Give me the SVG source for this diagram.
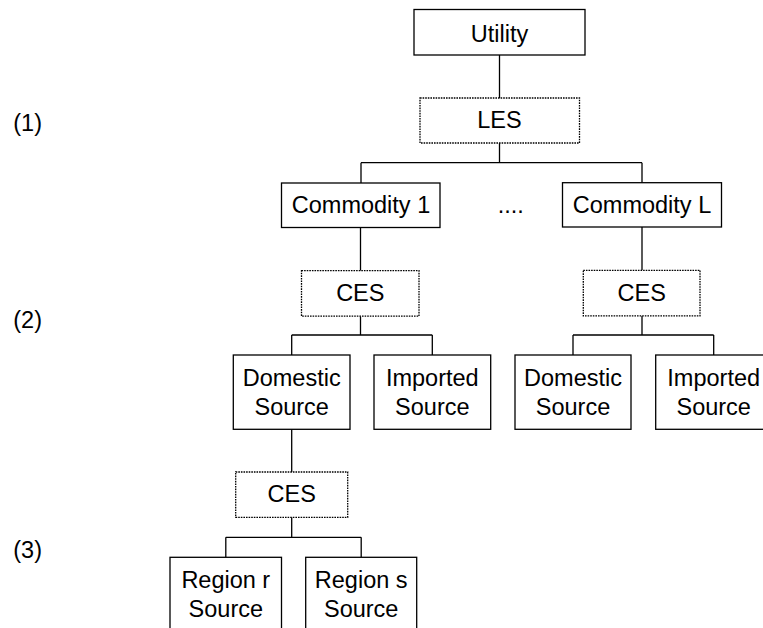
<svg xmlns="http://www.w3.org/2000/svg" width="763" height="628" viewBox="0 0 763 628">
<style>
  .box { fill: #ffffff; stroke: #000000; stroke-width: 1.3; }
  .dot { fill: #ffffff; stroke: #000000; stroke-width: 1.3; stroke-dasharray: 1.6 1; }
  .t { font-family: "Liberation Sans", Arial, sans-serif; font-size: 23.5px; fill: #000000; text-anchor: middle; }
  .lbl { font-family: "Liberation Sans", Arial, sans-serif; font-size: 23.5px; fill: #000000; }
  .c { fill: none; stroke: #000000; stroke-width: 1.3; }
</style>
<rect width="763" height="628" fill="#ffffff"/>
<g id="connectors">
  <path class="c" d="M499.5,55 V98"/>
  <path class="c" d="M499.5,143 V162.7 M361,162.7 H642 M361,162.7 V183 M642,162.7 V182.7"/>
  <path class="c" d="M360.5,227.5 V270.7"/>
  <path class="c" d="M360.5,316.2 V335 M291.7,335 H432.3 M291.7,335 V355 M432.3,335 V355"/>
  <path class="c" d="M642,227 V270.3"/>
  <path class="c" d="M642,315.8 V335 M573,335 H713.7 M573,335 V355 M713.7,335 V355"/>
  <path class="c" d="M291.7,429.3 V472"/>
  <path class="c" d="M291.7,517.3 V537.3 M225.8,537.3 H361.2 M225.8,537.3 V557.3 M361.2,537.3 V557.3"/>
</g>
<g id="labels">
  <text class="lbl" x="13.3" y="131">(1)</text>
  <text class="lbl" x="13.3" y="327.7">(2)</text>
  <text class="lbl" x="13.3" y="558">(3)</text>
  <text class="t" x="510.8" y="213.3">....</text>
</g>
<g id="utility">
  <rect class="box" x="414" y="9.5" width="171" height="45.5"/>
  <text class="t" x="499.5" y="41.7">Utility</text>
</g>
<g id="les">
  <rect class="dot" x="420" y="98" width="159.5" height="45"/>
  <text class="t" x="499.5" y="127.7">LES</text>
</g>
<g id="commodity1">
  <rect class="box" x="281.5" y="183" width="158.5" height="44.5"/>
  <text class="t" x="361" y="213.3">Commodity 1</text>
</g>
<g id="commodityL">
  <rect class="box" x="562.5" y="182.7" width="159" height="44.3"/>
  <text class="t" x="642" y="213.3">Commodity L</text>
</g>
<g id="ces1">
  <rect class="dot" x="301.5" y="270.7" width="117.5" height="45.5"/>
  <text class="t" x="360.3" y="300.7">CES</text>
</g>
<g id="ces2">
  <rect class="dot" x="583.3" y="270.3" width="116.7" height="45.5"/>
  <text class="t" x="641.7" y="300.5">CES</text>
</g>
<g id="domestic1">
  <rect class="box" x="233.3" y="355" width="116.7" height="74.3"/>
  <text class="t" x="291.7" y="385.7">Domestic</text>
  <text class="t" x="291.7" y="415">Source</text>
</g>
<g id="imported1">
  <rect class="box" x="374" y="355" width="116.7" height="74.3"/>
  <text class="t" x="432.3" y="385.7">Imported</text>
  <text class="t" x="432.3" y="415">Source</text>
</g>
<g id="domestic2">
  <rect class="box" x="515" y="355" width="116" height="74.3"/>
  <text class="t" x="573" y="385.7">Domestic</text>
  <text class="t" x="573" y="415">Source</text>
</g>
<g id="imported2">
  <rect class="box" x="655.7" y="355" width="116" height="74.3"/>
  <text class="t" x="713.7" y="385.7">Imported</text>
  <text class="t" x="713.7" y="415">Source</text>
</g>
<g id="ces3">
  <rect class="dot" x="235.7" y="472" width="112" height="45.3"/>
  <text class="t" x="291.7" y="501.7">CES</text>
</g>
<g id="regionR">
  <rect class="box" x="170" y="557.3" width="111.5" height="74"/>
  <text class="t" x="225.8" y="587.7">Region r</text>
  <text class="t" x="225.8" y="616.7">Source</text>
</g>
<g id="regionS">
  <rect class="box" x="305.7" y="557.3" width="111" height="74"/>
  <text class="t" x="361.2" y="587.7">Region s</text>
  <text class="t" x="361.2" y="616.7">Source</text>
</g>
</svg>
